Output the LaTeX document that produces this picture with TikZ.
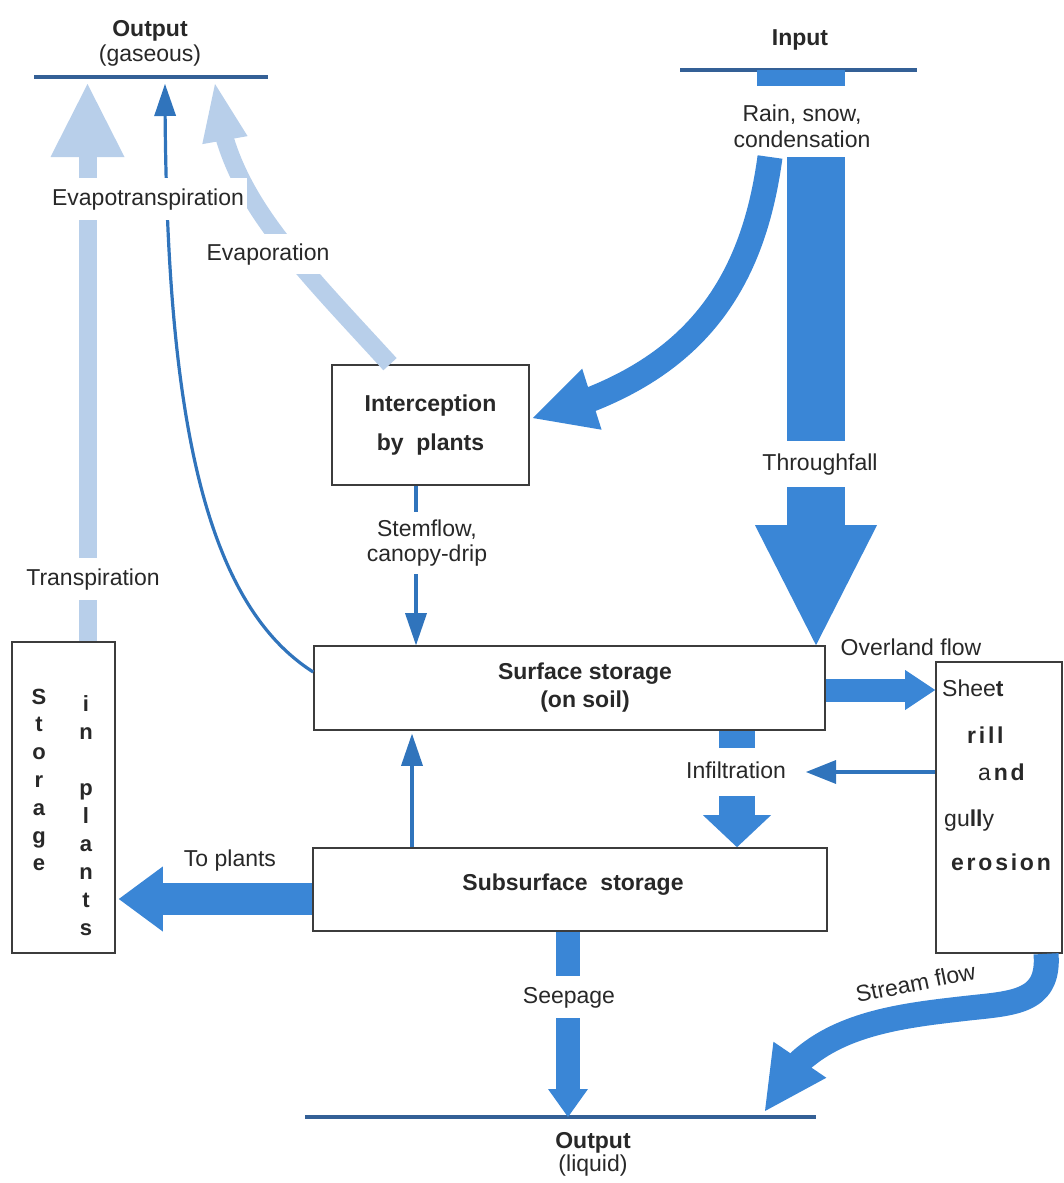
\documentclass[tikz,border=0pt]{standalone}
\usepackage{fontspec}
\setmainfont{Liberation Sans}
\usetikzlibrary{arrows.meta,calc,bending}
\definecolor{bmain}{RGB}{58,134,214}
\definecolor{blight}{RGB}{184,207,234}
\definecolor{bthin}{RGB}{48,116,188}
\definecolor{bline}{RGB}{52,96,150}
\definecolor{txt}{RGB}{40,40,40}
\definecolor{boxc}{RGB}{60,60,60}
\begin{document}
\begin{tikzpicture}[x=1pt,y=-1pt,
  every node/.style={text=txt, font=\fontsize{23}{26}\selectfont},
  box/.style={draw=boxc, line width=1.6pt, fill=white, inner sep=0pt},
  txtn/.style={inner sep=0pt, text height=17pt, text depth=5pt},
  lab/.style={fill=white, inner xsep=3pt, inner ysep=10pt, text height=17pt, text depth=5pt},
  bfont/.style={font=\fontsize{23}{26}\selectfont\bfseries},
  thinarrow/.style={draw=bthin, line width=3.2pt, -{Triangle[width=22pt,length=32pt,line width=0pt]}},
  fat/.style={draw=bmain, line width=#1},
  pale/.style={draw=blight, line width=18pt},
  outline/.style={draw=bline, line width=3.5pt},
  letter/.style={anchor=base, inner sep=0pt, font=\fontsize{22}{26}\selectfont\bfseries},
]
\useasboundingbox (0,0) rectangle (1064,1183);

% ---------- boxes ----------
\node[box, minimum width=197pt, minimum height=120pt, align=center,
      font=\fontsize{23}{39}\selectfont\bfseries] (inter) at (430.5,425) {Interception\\by\ \ plants};
\node[box, minimum width=511pt, minimum height=84pt] (surf) at (569.5,688) {};
\node[box, minimum width=514pt, minimum height=83pt] (sub) at (570,889.5) {};
\node[box, minimum width=126pt, minimum height=291pt] (sheet) at (999,807.5) {};
\node[box, minimum width=103pt, minimum height=311pt] (store) at (63.5,797.5) {};

% ---------- output / input lines ----------
\coordinate (og1) at (34,77);   \coordinate (og2) at (268,77);
\coordinate (in1) at (680,70);  \coordinate (in2) at (917,70);
\coordinate (ol1) at (305,1117); \coordinate (ol2) at (816,1117);
\draw[outline] (og1) -- (og2);
\draw[outline] (in1) -- (in2);
\draw[outline] (ol1) -- (ol2);
\fill[bmain] (757,70) rectangle (845,86);

% ---------- free ends ----------
\coordinate (tfS) at (816,157);
\coordinate (icS) at (770,157);
\coordinate (evE) at (215,84);
\coordinate (tpE) at (87.5,84);
\coordinate (etE) at (165,84);
\coordinate (stE) at (765,1111);

% ---------- pale arrows ----------
\draw[pale, -{Triangle[width=74pt,length=73pt,line width=0pt]}]
  ($(store.north)+(24,0)$) -- (tpE);
\draw[pale, -{Triangle[width=46pt,length=57pt,line width=0pt,flex]}]
  ($(inter.north)+(-40.5,0)$) .. controls (290,255) and (222,190) .. (evE);

% ---------- thin arrows ----------
\draw[thinarrow] ($(surf.west)+(0,-16)$) .. controls (200,600) and (165,400) .. (etE);
\draw[thinarrow] ($(inter.south)+(-14.5,0)$) -- ($(surf.north)+(-153.5,0)$);
\draw[thinarrow] ($(sub.north)+(-158,0)$) -- ($(surf.south)+(-157.5,3)$);

% ---------- fat arrows ----------
\draw[fat=58pt, -{Triangle[width=122pt,length=120pt,line width=0pt]}]
  (tfS) -- (surf.north -| tfS);
\draw[fat=25pt, -{Triangle[width=64pt,length=62pt,line width=0pt,flex]}]
  (icS) .. controls (752,290) and (690,378) .. ($(inter.east)+(3,-7)$);
\coordinate (ovS) at ($(surf.east)+(0,2)$);
\draw[fat=23pt, -{Triangle[width=40pt,length=30pt,line width=0pt]}]
  (ovS) -- (sheet.west |- ovS);
\draw[fat=36pt, -{Triangle[width=68pt,length=32pt,line width=0pt]}]
  ($(surf.south)+(167.5,0)$) -- ($(sub.north)+(167,0)$);
\coordinate (tpA) at ($(sub.west)+(0,9.5)$);
\draw[fat=32pt, -{Triangle[width=65pt,length=44pt,line width=0pt]}]
  (tpA) -- ($(store.east |- tpA)+(3,0)$);
\coordinate (spS) at ($(sub.south)+(-2,0)$);
\draw[fat=24pt, -{Triangle[width=40pt,length=28pt,line width=0pt]}]
  (spS) -- (spS |- ol1);
\draw[fat=25pt, -{Triangle[width=64pt,length=62pt,line width=0pt,flex]}]
  ($(sheet.south)+(47,0)$) .. controls (1050,1005) and (1010,1003) .. (960,1009)
  .. controls (880,1018) and (800,1030) .. (stE);

% ---------- labels ----------
\node[txtn, bfont] (outg) at (150,30) {Output};
\node[txtn] (gas) at (150,55) {(gaseous)};
\node[txtn, bfont] (input) at (800,39) {Input};
\node[inner sep=0pt, align=center] (rain) at (802,126) {Rain, snow,\\condensation};
\node[lab] (evt) at (148,199) {Evapotranspiration};
\node[lab, inner ysep=9pt] (evp) at (268,254) {Evaporation};
\node[lab] (trp) at (93,579) {Transpiration};
\node[lab, inner ysep=12pt] (tf) at (820,464) {Throughfall};
\node[fill=white, inner xsep=3pt, inner ysep=8pt, align=center,
      font=\fontsize{23}{25}\selectfont] (sf) at (427,543) {Stemflow,\\canopy-drip};
\node[inner sep=0pt, align=center, font=\fontsize{23}{28}\selectfont\bfseries] (surft) at (585,688) {Surface storage\\(on soil)};
\node[txtn, bfont] (subt) at (573,884) {Subsurface\ \ storage};
\node[lab, inner xsep=8pt, inner ysep=13pt] (infl) at (736,772) {Infiltration};
\draw[draw=bthin, line width=4pt, -{Triangle[width=24pt,length=30pt,line width=0pt]}]
  (sheet.west |- infl) -- ($(infl.east)+(12,0)$);
\node[txtn] (ovl) at (911,649) {Overland flow};
\node[txtn] (topl) at (230,860) {To plants};
\node[lab] (seep) at (569,997) {Seepage};
\node[txtn, rotate=11.5] (strf) at (916,985) {Stream flow};
\node[txtn, bfont] (outl) at (593,1142) {Output};
\node[txtn] (liq) at (593,1165) {(liquid)};

% sheet box text
\node[txtn, anchor=west] (sh1) at (942,690) {Shee\textbf{t}};
\node[txtn, anchor=west, font=\fontsize{23}{26}\selectfont\bfseries\addfontfeature{LetterSpace=12}] (sh2) at (967,737) {rill};
\node[txtn, anchor=west, font=\fontsize{23}{26}\selectfont\addfontfeature{LetterSpace=12}] (sh3) at (978,774) {a\textbf{nd}};
\node[txtn, anchor=west] (sh4) at (944,820) {gu\textbf{ll}y};
\node[txtn, anchor=west, font=\fontsize{23}{26}\selectfont\bfseries\addfontfeature{LetterSpace=12}] (sh5) at (951,864) {erosion};

% storage in plants letters
\foreach \c [count=\i from 0] in {S,t,o,r,a,g,e}
  \node[letter] (sl\i) at (39,{704+27.8*\i}) {\c};
\foreach \c/\k in {i/0,n/1,p/3,l/4,a/5,n/6,t/7,s/8}
  \node[letter] (sr\k) at (86,{711+28*\k}) {\c};
\end{tikzpicture}
\end{document}
